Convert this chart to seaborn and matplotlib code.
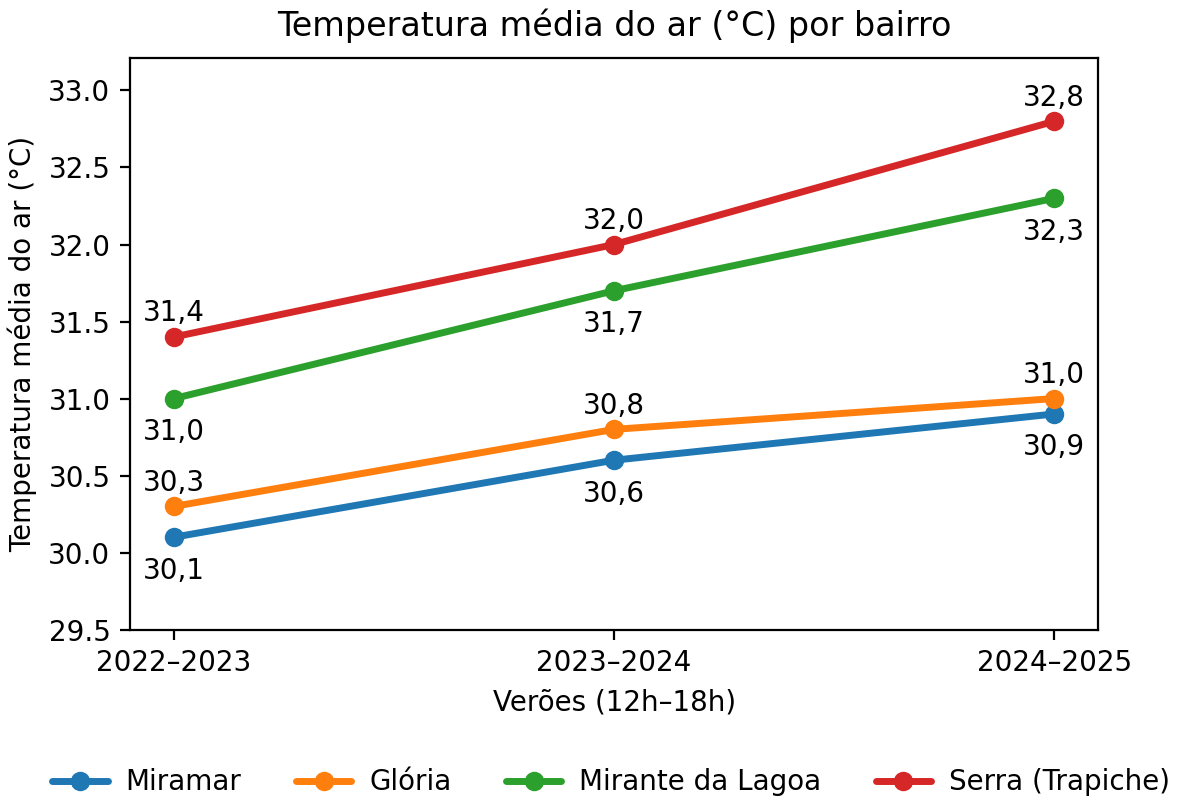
import matplotlib
matplotlib.use("Agg")
import matplotlib.pyplot as plt
import pandas as pd
import seaborn as sns

# Dati
verões = ["2022–2023", "2023–2024", "2024–2025"]
miramar = [30.1, 30.6, 30.9]
gloria = [30.3, 30.8, 31.0]
mirante = [31.0, 31.7, 32.3]
serra = [31.4, 32.0, 32.8]
bairros = ["Miramar", "Glória", "Mirante da Lagoa", "Serra (Trapiche)"]
cores = ["#1f77b4", "#ff7f0e", "#2ca02c", "#d62728"]
# posizione etichette: sopra (+1) o sotto (-1)
posizioni = [-1, 1, -1, 1]

serie = [miramar, gloria, mirante, serra]
df = pd.DataFrame({
    "Verão": verões * len(bairros),
    "Temperatura": [v for s in serie for v in s],
    "Bairro": [b for b in bairros for _ in verões],
})

sns.set_style("ticks", rc={"text.color": "black", "axes.labelcolor": "black",
                           "xtick.color": "black", "ytick.color": "black",
                           "axes.edgecolor": "black"})
plt.rcParams['font.family'] = ['DejaVu Sans']

fig = plt.figure(figsize=(5.905, 3.98), dpi=200)
ax = fig.add_axes([0.110, 0.209, 0.820, 0.718])

sns.lineplot(data=df, x="Verão", y="Temperatura", hue="Bairro", palette=cores,
             marker="o", markersize=7, linewidth=2.5, markeredgewidth=0,
             ax=ax, legend=True, sort=False)

# Etichette valori
for s, pos in zip(serie, posizioni):
    for i, v in enumerate(s):
        off = 3.5 if pos > 0 else -7
        ax.annotate(f"{v:.1f}".replace(".", ","), (i, v),
                    xytext=(0, off), textcoords="offset points",
                    ha="center", va="bottom" if pos > 0 else "top", fontsize=10)

ax.set_xlim(-0.1, 2.1)
ax.set_ylim(29.5, 33.21)
ax.set_yticks([29.5, 30.0, 30.5, 31.0, 31.5, 32.0, 32.5, 33.0])
ax.tick_params(labelsize=10)
ax.set_xlabel("Verões (12h–18h)", fontsize=10)
ax.set_ylabel("Temperatura média do ar (°C)", fontsize=10)
ax.set_title("Temperatura média do ar (°C) por bairro", fontsize=12, pad=8)

handles, labels = ax.get_legend_handles_labels()
ax.legend(handles, labels, loc="center", bbox_to_anchor=(0.497, -0.267),
          ncol=4, frameon=False, fontsize=10, handlelength=2.0,
          handletextpad=0.65, columnspacing=1.95)

fig.savefig("out.png", dpi=200)
